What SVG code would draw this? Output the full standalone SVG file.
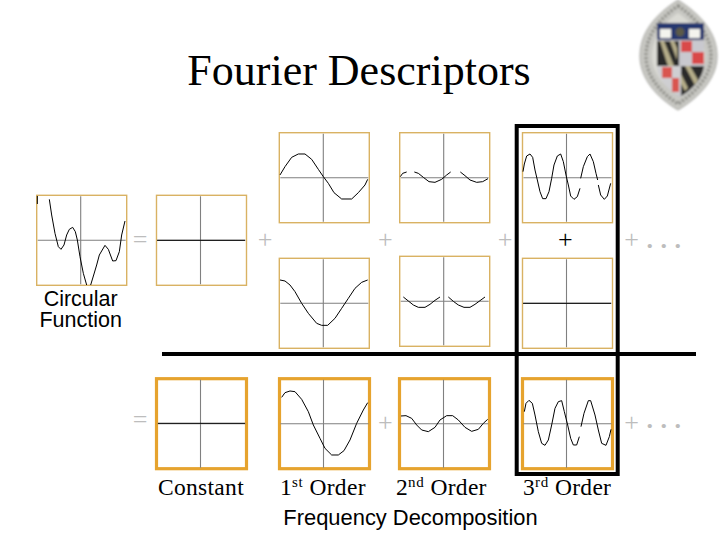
<svg xmlns="http://www.w3.org/2000/svg" width="720" height="540" viewBox="0 0 720 540">
<style>
.fr{fill:#fff;stroke:#d9b263;stroke-width:1.4}
.fb{fill:#fff;stroke:#e6a32e;stroke-width:3.2}
.ax{stroke:#808080;stroke-width:1.1;fill:none}
.cv{fill:none;stroke:#000;stroke-width:1;vector-effect:non-scaling-stroke;stroke-linejoin:round}
.se{font-family:"Liberation Serif","Times New Roman",serif;fill:#000}
.sa{font-family:"Liberation Sans",Arial,sans-serif;fill:#000;font-size:21.5px;text-anchor:middle}
.op{font-family:"Liberation Serif","Times New Roman",serif;font-size:26px;fill:#bdbdbd;text-anchor:middle}
.lb{font-size:23.5px;letter-spacing:.3px}
.sp{font-size:15px;letter-spacing:.6px}
.bar{fill:none;stroke:#000;stroke-width:4}
</style>
<defs>
<g id="axes-top"><path class="ax" d="M1 45H89M44 1V89"/></g>
<filter id="soft" x="-5%" y="-5%" width="110%" height="110%"><feGaussianBlur stdDeviation="0.8"/></filter>
</defs>

<text class="se" x="359" y="85" font-size="44" text-anchor="middle">Fourier Descriptors</text>

<g id="seal" filter="url(#soft)">
<path d="M678 0C700 14 717 32 717 56C717 78 700 97 678 110C656 97 640 78 640 56C640 32 656 14 678 0Z" fill="#c8c8c3" stroke="#a5a5a0"/>
<path d="M678 6C696 18 711 35 711 56C711 76 696 92 678 104C660 92 646 76 646 56C646 35 660 18 678 6Z" fill="none" stroke="#85857f" stroke-width="3.5" stroke-dasharray="2 2"/>
<path d="M678 13C693 23 705 38 705 56C705 73 693 85 678 96C663 85 652 73 652 56C652 38 663 23 678 13Z" fill="#dadad4"/>
<path d="M657 23H704V62C704 78 692 90 680 97C668 90 657 78 657 62Z" fill="#c4c4c8"/>
<rect x="657" y="23" width="47" height="17" fill="#27396f"/>
<rect x="660" y="29" width="11" height="9" fill="#f4f4ee"/>
<rect x="689" y="29" width="11" height="9" fill="#f4f4ee"/>
<circle cx="680" cy="32" r="4.5" fill="#5b5a4a"/>
<path d="M657 41H679V66H657Z" fill="#2b2b2b"/>
<path d="M660 41L668 66H674L664 41ZM670 41L677 60V48L674 41Z" fill="#b6ae8a"/>
<path d="M681 41H704V66H681Z" fill="#c9c9cf"/>
<path d="M681 41H692V52H681ZM692 52H704V64H692Z" fill="#d9494a"/>
<path d="M681 67H679V66H657V70C660 80 668 90 679 95Z" fill="#cfcfd2"/>
<path d="M662 67H672V78H662ZM672 78H679V92H672Z" fill="#d9544f"/>
<path d="M681 66H704C703 78 692 90 681 96Z" fill="#2b2b2b"/>
<path d="M685 66L695 85L698 80L690 66ZM681 74L688 88L685 91L681 84Z" fill="#b6ae8a"/>
</g>

<g id="circular-function">
<rect class="fr" x="36.7" y="195.3" width="90" height="90"/>
<use href="#axes-top" transform="translate(36.7,195.3)"/>
<g transform="translate(0,120) scale(.33333)">
<path class="cv" d="M112 228V252"/>
<polyline class="cv" points="148,238 155,285 165,340 175,380 183,388 192,375 200,345 208,328 218,322 226,335 232,360 240,410 250,460 260,495"/>
<polyline class="cv" points="272,495 282,462 290,435 298,405 315,376 325,388 338,423 348,422 358,395 365,345 375,303"/>
</g>
<text class="sa" x="80.7" y="306">Circular</text>
<text class="sa" x="80.7" y="327">Function</text>
</g>

<g id="top-constant">
<rect class="fr" x="156.5" y="195.3" width="90" height="90"/>
<use href="#axes-top" transform="translate(156.5,195.3)"/>
<path class="cv" d="M157 240.3H245"/>
</g>

<g id="top-first-sine">
<rect class="fr" x="279.3" y="132.7" width="90" height="90"/>
<use href="#axes-top" transform="translate(279.3,132.7)"/>
<polyline class="cv" transform="translate(260,120) scale(.33333)" points="60,165 75,140 95,112 115,102 135,102 155,118 175,148 190,170 205,190 222,218 245,237 275,237 295,218 315,195 323,178"/>
</g>

<g id="top-second-sine">
<rect class="fr" x="399.7" y="132.7" width="90" height="90"/>
<use href="#axes-top" transform="translate(399.7,132.7)"/>
<g transform="translate(260,120) scale(.33333)">
<polyline class="cv" points="421,170 428,160 440,156"/>
<polyline class="cv" points="463,156 475,160 490,172 507,185 525,187 545,178 560,165 572,156"/>
<polyline class="cv" points="601,156 615,167 630,180 650,187 668,185 684,176"/>
</g>
</g>

<g id="top-third-sine">
<rect class="fr" x="522.5" y="132.7" width="90" height="90"/>
<use href="#axes-top" transform="translate(522.5,132.7)"/>
<g transform="translate(500,120) scale(.33333)">
<polyline class="cv" points="69,155 73,132 80,108 90,102 98,112 105,150 112,180 120,215 128,236 138,236 147,215 155,175 162,135 172,108 182,102 190,125 198,165 205,195 212,228 222,238 232,230 240,205"/>
<polyline class="cv" points="242,175 250,140 262,110 270,102 280,125 288,160 293,180"/>
<polyline class="cv" points="295,195 302,225 313,238 322,228 332,190"/>
</g>
</g>

<g id="top-first-cosine">
<rect class="fr" x="279.3" y="258.3" width="90" height="90"/>
<use href="#axes-top" transform="translate(279.3,258.3)"/>
<polyline class="cv" transform="translate(260,120) scale(.33333)" points="60,480 75,483 90,495 105,515 125,550 145,580 170,610 185,616 203,616 225,595 245,565 265,535 285,505 305,487 323,480"/>
</g>

<g id="top-second-cosine">
<rect class="fr" x="399.7" y="256.3" width="90" height="90"/>
<use href="#axes-top" transform="translate(399.7,256.3)"/>
<g transform="translate(260,120) scale(.33333)">
<polyline class="cv" points="430,531 445,543 460,555 475,562 495,562 510,553 525,541 540,531"/>
<polyline class="cv" points="565,531 580,544 595,555 612,562 630,562 645,553 660,542 675,531"/>
</g>
</g>

<g id="top-third-cosine">
<rect class="fr" x="522.5" y="258.3" width="90" height="90"/>
<use href="#axes-top" transform="translate(522.5,258.3)"/>
<path class="cv" d="M523 303.3H611"/>
</g>

<g id="bottom-constant">
<rect class="fb" x="156.5" y="378.7" width="90" height="90"/>
<use href="#axes-top" transform="translate(156.5,378.7)"/>
<path class="cv" d="M158 423.3H245"/>
<text class="se lb" x="158" y="495">Constant</text>
</g>

<g id="bottom-first">
<rect class="fb" x="279.5" y="378.7" width="90" height="90"/>
<use href="#axes-top" transform="translate(279.5,378.7)"/>
<polyline class="cv" transform="translate(120,340) scale(.33333)" points="485,172 495,158 510,153 525,155 545,178 565,215 580,255 600,295 615,325 635,345 655,345 672,332 690,300 710,250 730,210 743,188"/>
<text class="se lb" x="280" y="495">1<tspan class="sp" dy="-8">st</tspan><tspan dy="8"> Order</tspan></text>
</g>

<g id="bottom-second">
<rect class="fb" x="399.5" y="378.7" width="90" height="90"/>
<use href="#axes-top" transform="translate(399.5,378.7)"/>
<polyline class="cv" transform="translate(380,340) scale(.33333)" points="63,228 78,227 95,235 110,255 125,270 145,275 165,262 180,240 200,227 218,227 235,240 255,262 275,274 295,268 310,250 323,238"/>
<text class="se lb" x="396" y="495">2<tspan class="sp" dy="-8">nd</tspan><tspan dy="8"> Order</tspan></text>
</g>

<g id="bottom-third">
<rect class="fb" x="522.5" y="378.7" width="90" height="90"/>
<use href="#axes-top" transform="translate(522.5,378.7)"/>
<g transform="translate(380,340) scale(.33333)">
<polyline class="cv" points="433,215 438,190 447,181 457,190 465,225 475,275 485,310 495,316 505,300 515,255 525,205 535,185 545,182 553,215 563,255 572,295 580,315 590,315 598,290"/>
<polyline class="cv" points="603,260 612,220 625,182 632,182 645,225 655,270 665,310 678,316 688,290 693,268"/>
</g>
<text class="se lb" x="523" y="495">3<tspan class="sp" dy="-8">rd</tspan><tspan dy="8"> Order</tspan></text>
</g>

<g id="operators">
<text class="op" x="140" y="248">=</text>
<text class="op" x="265" y="248">+</text>
<text class="op" x="385.3" y="248">+</text>
<text class="op" x="505" y="248">+</text>
<text class="op" x="565.3" y="248" style="fill:#000">+</text>
<text class="op" x="631.7" y="248">+</text>
<text class="op" x="646.5 660.5 674.5" y="248" style="text-anchor:start;font-weight:bold">...</text>
<text class="op" x="140" y="428">=</text>
<text class="op" x="385.3" y="431">+</text>
<text class="op" x="631.7" y="431">+</text>
<text class="op" x="646.5 660.5 674.5" y="428" style="text-anchor:start;font-weight:bold">...</text>
</g>

<g id="connectors">
<path class="bar" d="M162 354H696"/>
<rect class="bar" x="516.7" y="126" width="101" height="348"/>
</g>

<text class="sa" x="410.5" y="525" style="font-size:21.9px">Frequency Decomposition</text>
</svg>
